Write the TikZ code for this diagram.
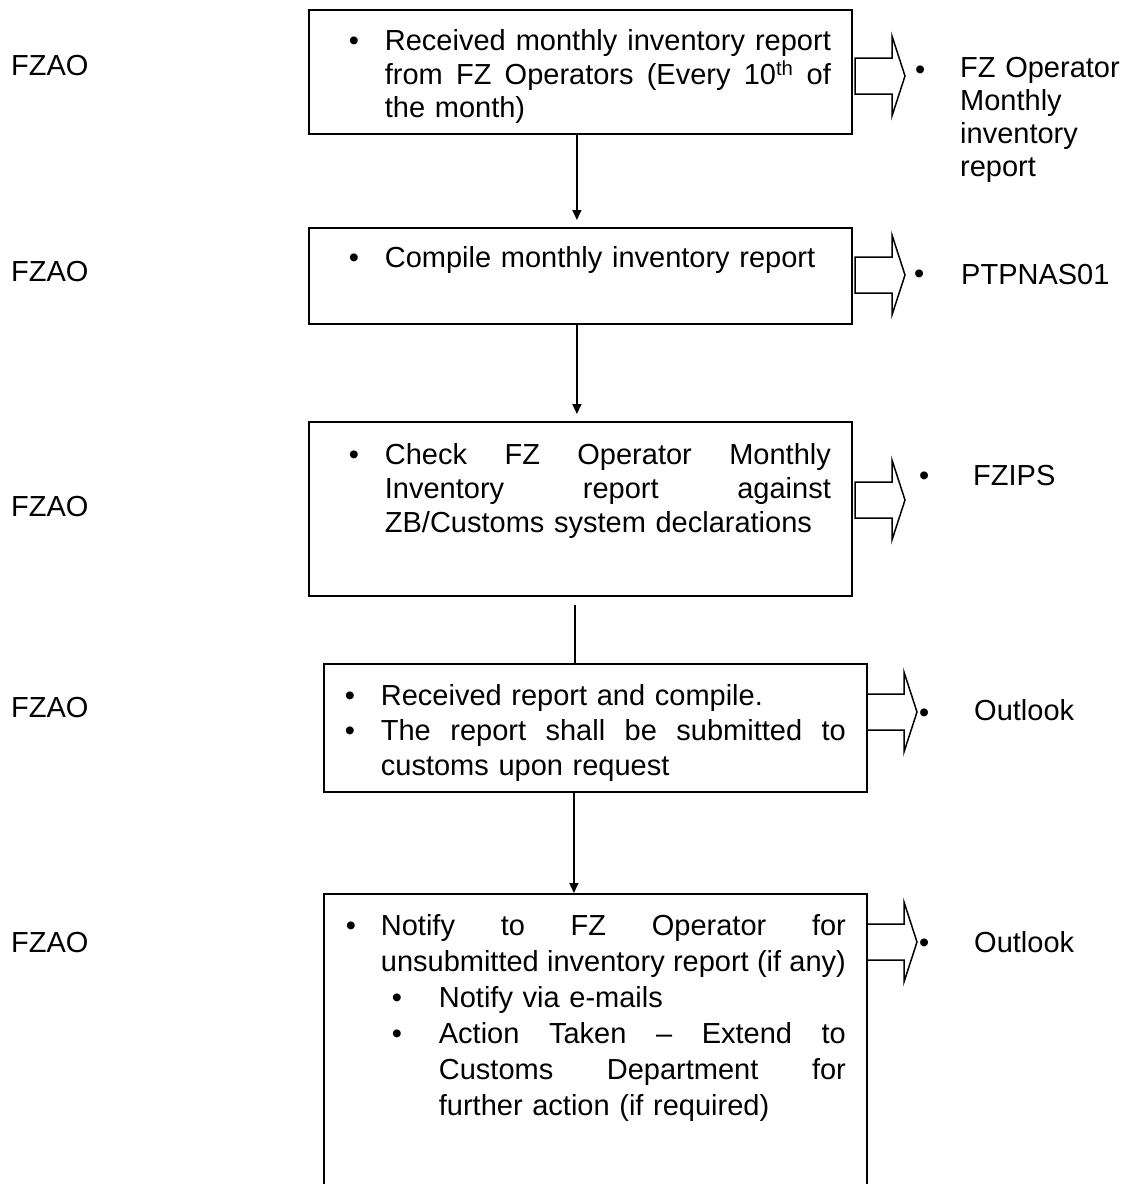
\documentclass[tikz,border=0pt]{standalone}
\usepackage{fontspec}
\setmainfont{Liberation Sans}
\usetikzlibrary{arrows.meta}

% text size used throughout the chart
\newcommand\fs{\fontsize{29pt}{34pt}\selectfont}
% a bulleted line: bullet offset, text offset, line content
\newcommand\ibul[3]{\hbox{\hbox to #2{\hskip#1\relax\textbullet\hfil}#3}\par}
% a continuation line: text offset, line content
\newcommand\cont[2]{\hbox{\hskip#1\relax#2}\par}
% a justified line of a given width: the word spaces take up the slack
\newcommand\jst[2]{\hbox to #1{\spaceskip=.278em plus 1fil minus .05em
  \xspaceskip=\spaceskip\relax #2}}

\tikzset{
  stepbox/.style={draw, line width=1.8pt, inner sep=0pt, anchor=north west, font=\fs},
  role/.style={anchor=base west, inner sep=0pt, font=\fs},
  tool/.style={anchor=base west, inner sep=0pt, font=\fs},
  tooldot/.style={anchor=base west, inner sep=0pt, font=\fs},
  flow/.style={line width=1.5pt, -{Triangle[length=10pt,width=9pt]}},
  joinline/.style={line width=1.5pt},
  blockarrow/.pic={
    \draw[line width=1.5pt, line join=miter, fill=white]
      (0,-18) -- (37,-18) -- (37,-40) -- (50,0) -- (37,40) -- (37,18) -- (0,18) -- cycle;
  }
}

\begin{document}
\begin{tikzpicture}[x=1pt,y=-1pt]
\useasboundingbox (0,0) rectangle (1128,1184);
\clip (0,0) rectangle (1128,1184);

% responsible party for each step
\node[role] (r1) at (11,75)  {FZAO};
\node[role] (r2) at (11,281) {FZAO};
\node[role] (r3) at (11,516) {FZAO};
\node[role] (r4) at (11,717) {FZAO};
\node[role] (r5) at (11,952) {FZAO};

% process steps
\node[stepbox, text width=543pt, text height=41pt, text depth=83pt] (b1) at (308,9) {%
  \baselineskip=33.5pt\relax
  \ibul{40pt}{76pt}{\jst{446pt}{Received monthly inventory report}}%
  \cont{76pt}{\jst{446pt}{from FZ Operators (Every 10\textsuperscript{th} of}}%
  \cont{76pt}{the month)}};

\node[stepbox, text width=543pt, text height=40pt, text depth=56pt] (b2) at (308,227) {%
  \ibul{40pt}{76pt}{Compile monthly inventory report}};

\node[stepbox, text width=543pt, text height=43pt, text depth=131pt] (b3) at (308,421) {%
  \baselineskip=34pt\relax
  \ibul{40pt}{76pt}{\jst{446pt}{Check FZ Operator Monthly}}%
  \cont{76pt}{\jst{446pt}{Inventory report against}}%
  \cont{76pt}{ZB/Customs system declarations}};

\node[stepbox, text width=543pt, text height=42pt, text depth=86pt] (b4) at (323,663) {%
  \baselineskip=35pt\relax
  \ibul{21pt}{57pt}{Received report and compile.}%
  \ibul{21pt}{57pt}{\jst{465pt}{The report shall be submitted to}}%
  \cont{57pt}{customs upon request}};

\node[stepbox, text width=543pt, text height=42pt, text depth=400pt] (b5) at (323,893) {%
  \baselineskip=36pt\relax
  \ibul{22pt}{57pt}{\jst{465pt}{Notify to FZ Operator for}}%
  \cont{57pt}{\jst{465pt}{unsubmitted inventory report (if any)}}%
  \ibul{68pt}{115pt}{Notify via e-mails}%
  \ibul{68pt}{115pt}{\jst{407pt}{Action Taken – Extend to}}%
  \cont{115pt}{\jst{407pt}{Customs Department for}}%
  \cont{115pt}{further action (if required)}};

% flow between steps
\draw[flow] ([xshift=-3.5pt]b1.south) -- ([xshift=-3.5pt,yshift=7pt]b2.north);
\draw[flow] ([xshift=-3.5pt]b2.south) -- ([xshift=-3.5pt,yshift=7pt]b3.north);
\draw[joinline] ([xshift=-5.5pt,yshift=-8pt]b3.south) -- ([xshift=-20.5pt]b4.north);
\draw[flow] ([xshift=-21.5pt]b4.south) -- ([xshift=-21.5pt]b5.north);

% outputs of each step
\pic (o1) at (855,76)  {blockarrow};
\pic (o2) at (855,275) {blockarrow};
\pic (o3) at (855,500) {blockarrow};
\pic (o4) at (867,712) {blockarrow};
\pic (o5) at (867,942) {blockarrow};

\node[tooldot] (d1) at (915,79)  {\textbullet};
\node[tooldot] (d2) at (914,283) {\textbullet};
\node[tooldot] (d3) at (919,485) {\textbullet};
\node[tooldot] (d4) at (919,722) {\textbullet};
\node[tooldot] (d5) at (919,952) {\textbullet};

\node[tool, text width=170pt] (t1) at (960,77)
  {\baselineskip=33pt\relax\hbox{FZ Operator}\par\hbox{Monthly}\par\hbox{inventory}\par\hbox{report}};
\node[tool] (t2) at (961,284) {PTPNAS01};
\node[tool] (t3) at (973,485) {FZIPS};
\node[tool] (t4) at (974,720) {Outlook};
\node[tool] (t5) at (974,952) {Outlook};
\end{tikzpicture}
\end{document}
